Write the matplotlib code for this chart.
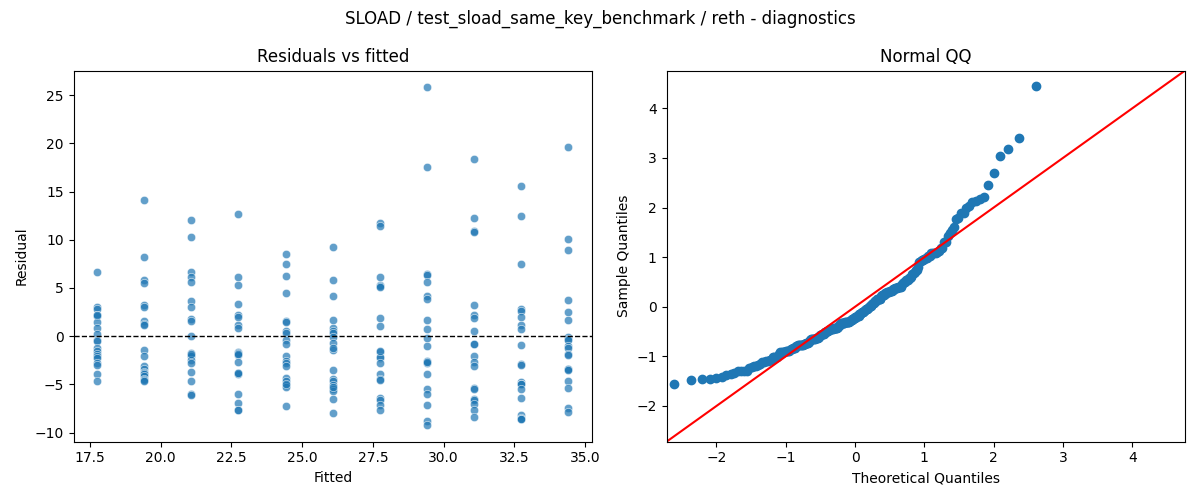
import numpy as np
import matplotlib
matplotlib.use("Agg")
import matplotlib.pyplot as plt
import seaborn as sns
from statistics import NormalDist

# fitted value of each group (one column of points per group)
fitted_levels = [17.76, 19.42, 21.09, 22.75, 24.42, 26.08, 27.75, 29.41, 31.08, 32.74, 34.41]

# residuals, one list per fitted level
res_g1 = [6.7, 3.0, 2.8, 2.2, 2.1, 1.5, 0.8, 0.2, -0.4, -0.5, -1.2, -1.5, -1.9, -2.1, -2.3, -2.8, -3.0, -3.9, -4.7, 2.2]
res_g2 = [14.1, 8.2, 5.8, 5.5, 3.2, 3.0, 1.6, 1.3, 1.2, -1.4, -2.1, -3.1, -3.4, -3.7, -3.8, -3.9, -4.1, -4.4, -4.5, -4.7]
res_g3 = [12.1, 10.3, 6.7, 6.1, 5.6, 3.7, 3.0, 1.8, 1.6, 0.0, -1.7, -2.0, -2.1, -2.5, -2.8, -3.7, -4.6, -6.0, -6.1, -1.9]
res_g4 = [12.7, 6.1, 5.3, 3.3, 2.2, 2.0, 1.2, 0.8, -1.6, -1.7, -2.0, -2.7, -3.8, -3.9, -6.0, -6.9, -7.7, -7.7, -1.8, -3.85]
res_g5 = [8.5, 7.5, 6.2, 4.5, 1.6, 1.5, 0.5, 0.3, -0.4, -0.8, -2.1, -2.6, -2.8, -3.1, -4.3, -4.6, -5.1, -5.3, -7.2, -5.0]
res_g6 = [9.2, 5.8, 4.2, 1.7, 0.8, 0.5, 0.3, -0.1, -0.7, -1.4, -3.5, -4.4, -4.7, -5.1, -5.5, -5.7, -6.5, -8.0, -1.2, -5.3]
res_g7 = [11.7, 11.4, 6.1, 5.3, 5.2, 1.9, 1.1, -1.6, -2.3, -2.2, -2.8, -3.9, -4.4, -4.5, -6.4, -6.6, -7.1, -7.7, 5.1, -1.5]
res_g8 = [25.8, 17.5, 6.4, 6.3, 5.6, 4.2, 3.9, 1.7, 0.7, -0.2, -1.0, -2.6, -2.8, -2.7, -3.9, -5.5, -6.0, -7.1, -8.8, -9.2]
res_g9 = [18.4, 12.3, 10.9, 10.8, 3.2, 2.2, 1.9, 0.5, -0.8, -0.8, -2.1, -2.7, -3.1, -5.4, -5.5, -6.5, -6.6, -7.0, -7.7, -8.4]
res_g10 = [15.6, 12.5, 7.5, 2.8, 2.6, 2.0, 1.2, 0.7, -0.9, -2.9, -3.0, -4.8, -5.0, -5.0, -5.5, -6.4, -8.2, -8.5, -8.6, -8.6]
res_g11 = [19.6, 10.1, 8.9, 3.8, 2.5, 1.7, -0.1, -0.3, -0.4, -1.0, -1.2, -1.9, -2.0, -3.4, -3.4, -3.5, -4.7, -5.4, -7.4, -7.9]

groups = [res_g1, res_g2, res_g3, res_g4, res_g5, res_g6, res_g7, res_g8, res_g9, res_g10, res_g11]
fitted = np.concatenate([[f] * len(g) for f, g in zip(fitted_levels, groups)])
resid = np.concatenate(groups)

# QQ: standardized residuals against normal quantiles
std_resid = np.sort((resid - resid.mean()) / resid.std(ddof=1))
n = len(std_resid)
theo = np.array([NormalDist().inv_cdf(i / (n + 1)) for i in range(1, n + 1)])

fig, (ax1, ax2) = plt.subplots(1, 2, figsize=(12, 5))

sns.scatterplot(x=fitted, y=resid, alpha=0.7, ax=ax1)
ax1.axhline(0, color='black', linestyle='--', linewidth=1)
ax1.set_title('Residuals vs fitted')
ax1.set_xlabel('Fitted')
ax1.set_ylabel('Residual')

ax2.plot(theo, std_resid, 'o', color='C0')
lo, hi = -2.72, 4.76
ax2.plot([lo, hi], [lo, hi], 'r-')
ax2.set_xlim(lo, hi)
ax2.set_ylim(lo, hi)
ax2.set_title('Normal QQ')
ax2.set_xlabel('Theoretical Quantiles')
ax2.set_ylabel('Sample Quantiles')

fig.suptitle('SLOAD / test_sload_same_key_benchmark / reth - diagnostics')
fig.tight_layout()
fig.savefig('out.png', dpi=100)
